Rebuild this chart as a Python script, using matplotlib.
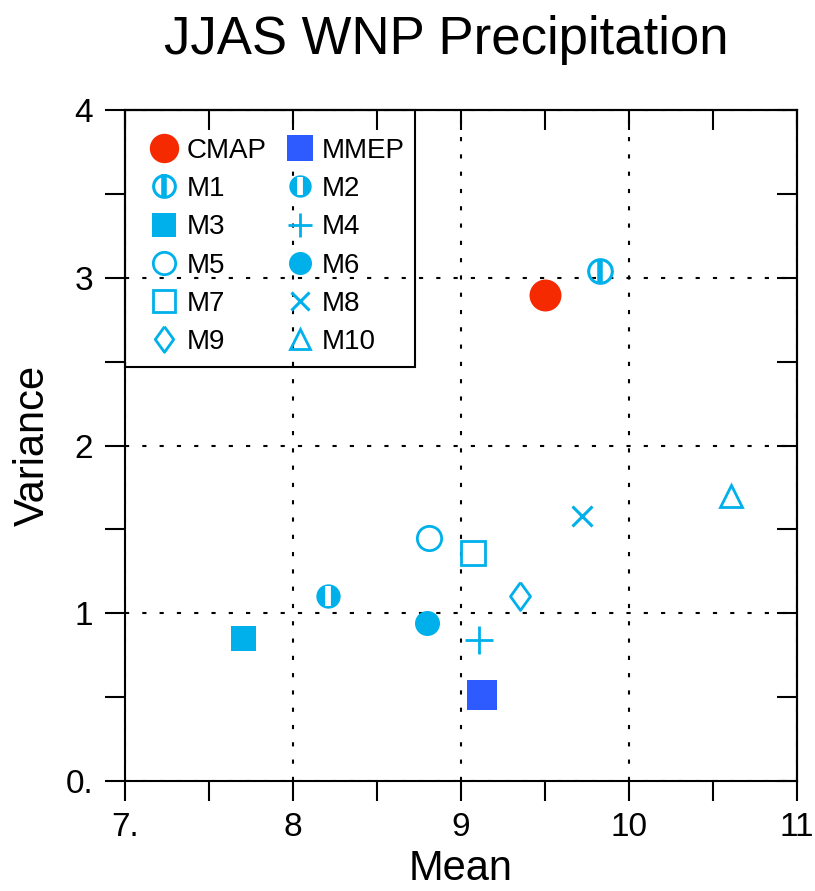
import numpy as np
import matplotlib
matplotlib.use('Agg')
import matplotlib.pyplot as plt
from matplotlib.legend_handler import HandlerTuple
from matplotlib.patches import Rectangle

plt.rcParams['font.family'] = ['Liberation Sans', 'DejaVu Sans']

# values
names = ['CMAP', 'MMEP', 'M1', 'M2', 'M3', 'M4', 'M5', 'M6', 'M7', 'M8', 'M9', 'M10']
mean = [9.50, 9.125, 9.83, 8.21, 7.70, 9.11, 8.81, 8.80, 9.07, 9.72, 9.35, 10.61]
variance = [2.90, 0.51, 3.04, 1.10, 0.85, 0.84, 1.45, 0.94, 1.36, 1.58, 1.10, 1.70]

xticks = [7, 8, 9, 10, 11]
xticklabels = ['7.', '8', '9', '10', '11']
yticks = [0, 1, 2, 3, 4]
yticklabels = ['0.', '1', '2', '3', '4']

red = '#F52A00'
blue = '#2D5BFF'
cyan = '#00B0EB'

diamond = [(0, 1), (0.72, 0), (0, -1), (-0.72, 0), (0, 1)]

fig = plt.figure(figsize=(8.15, 8.91), dpi=100)
ax = fig.add_axes([125/815, 110/891, 672/815, 671/891])

ax.grid(True, color='black', linewidth=1.5, linestyle=(0, (2, 6.3)))
ax.set_axisbelow(True)

d = dict(zip(names, zip(mean, variance)))
h = {}
def pt(n, **kw):
    x, y = d[n]
    return ax.plot([x], [y], linestyle='none', **kw)[0]

h['CMAP'] = pt('CMAP', marker='o', ms=23, mfc=red, mec=red, mew=0)
h['MMEP'] = pt('MMEP', marker='s', ms=21, mfc=blue, mec=blue, mew=0)
h['M1'] = (pt('M1', marker='o', ms=17, mfc='none', mec=cyan, mew=2.2),
           pt('M1', marker='|', ms=18, mec=cyan, mew=4))
h['M2'] = (pt('M2', marker='o', ms=17.5, mfc=cyan, mec=cyan, mew=0),
           pt('M2', marker='|', ms=14, mec='white', mew=4.2))
h['M3'] = pt('M3', marker='s', ms=18, mfc=cyan, mec=cyan, mew=0)
h['M4'] = pt('M4', marker='+', ms=19.5, mec=cyan, mew=2)
h['M5'] = pt('M5', marker='o', ms=17.5, mfc='none', mec=cyan, mew=2)
h['M6'] = pt('M6', marker='o', ms=18, mfc=cyan, mec=cyan, mew=0)
h['M7'] = pt('M7', marker='s', ms=17.5, mfc='none', mec=cyan, mew=2)
h['M8'] = pt('M8', marker='x', ms=14, mec=cyan, mew=2.2)
h['M9'] = pt('M9', marker=diamond, ms=20, mfc='none', mec=cyan, mew=2)
h['M10'] = pt('M10', marker='^', ms=15.5, mfc='none', mec=cyan, mew=2)

ax.set_xlim(7, 11)
ax.set_ylim(0, 4)
ax.set_xticks(xticks)
ax.set_xticklabels(xticklabels)
ax.set_yticks(yticks)
ax.set_yticklabels(yticklabels)
ax.set_xticks(np.arange(7.5, 11, 1), minor=True)
ax.set_yticks(np.arange(0.5, 4, 1), minor=True)
for which in ['major', 'minor']:
    ax.tick_params(axis='both', which=which, length=14.4, width=1.5, labelsize=24,
                   direction='out', top=False, right=False)
ax.tick_params(axis='x', which='major', pad=8)
ax.tick_params(axis='y', which='major', pad=8.5)

# inward ticks on the top and right edges
tx = ax.secondary_xaxis('top')
tx.set_xticks(xticks + list(np.arange(7.5, 11, 1)))
tx.tick_params(direction='in', length=14.4, width=1.5, labelsize=0)
tx.set_xticklabels([])
ty = ax.secondary_yaxis('right')
ty.set_yticks(yticks + list(np.arange(0.5, 4, 1)))
ty.tick_params(direction='in', length=14.4, width=1.5, labelsize=0)
ty.set_yticklabels([])
for a in [ax, tx, ty]:
    for s in a.spines.values():
        s.set_linewidth(1.5)

ax.set_xlabel('Mean', fontsize=30, labelpad=4)
ax.set_ylabel('Variance', fontsize=30, labelpad=9)
ax.set_title('JJAS WNP Precipitation', fontsize=38, pad=40, x=0.478)

order = ['CMAP', 'M1', 'M3', 'M5', 'M7', 'M9', 'MMEP', 'M2', 'M4', 'M6', 'M8', 'M10']
leg = ax.legend([h[n] for n in order], order, ncol=2, loc='upper left',
                bbox_to_anchor=(28/672, 1 - 28/671), borderaxespad=0, borderpad=0,
                fontsize=20, frameon=False,
                handlelength=0.8, handletextpad=0.4, columnspacing=0.8,
                labelspacing=0.44, markerscale=0.92,
                handler_map={tuple: HandlerTuple(ndivide=1)})
leg.set_zorder(5)

# legend box
ax.add_patch(Rectangle((0, 414/671), 290/672, 257/671, transform=ax.transAxes,
                       fill=False, edgecolor='black', linewidth=1.5,
                       clip_on=False, zorder=6))

fig.savefig('out.png', dpi=100)
